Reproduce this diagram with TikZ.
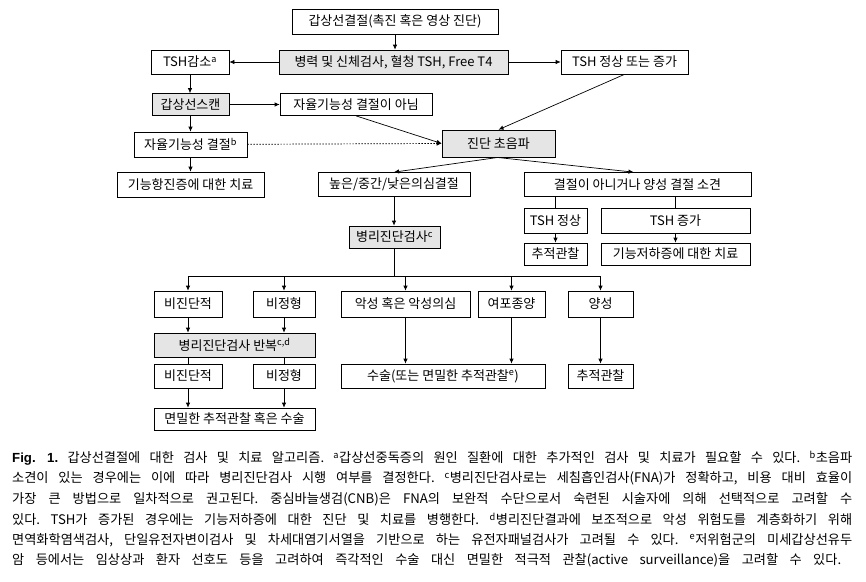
\documentclass[tikz,border=0pt]{standalone}
\usepackage{fontspec}
\setmainfont{Noto Sans CJK KR}
\newfontfamily\figfont{Liberation Sans}
\usepackage{tikz}
\usetikzlibrary{arrows.meta}
\frenchspacing

\tikzset{
  box/.style={draw=black,line width=0.7pt,fill=white,inner sep=0pt,minimum height=24pt,font=\fontsize{13}{14}\selectfont},
  gbox/.style={box,fill=black!10},
  arr/.style={-{Latex[length=5pt,width=4.5pt]},line width=0.7pt},
  ln/.style={line width=0.7pt},
  capline/.style={anchor=west,inner sep=0pt,font=\fontsize{13.2}{15}\selectfont}
}

\begin{document}
\begin{tikzpicture}[x=1pt,y=-1pt]
\useasboundingbox (0,0) rectangle (866,581);

% upper part
\node[box,minimum width=206pt,minimum height=25pt] (top) at (395,21.5) {갑상선결절(촉진 혹은 영상 진단)};
\node[gbox,minimum width=229pt] (hist) at (393.5,62) {병력 및 신체검사, 혈청 TSH, Free T4};
\node[box,minimum width=78pt] (low) at (190,62) {TSH감소\textsuperscript{a}};
\node[box,minimum width=127pt] (tshn) at (624.5,62) {TSH 정상 또는 증가};
\node[gbox,minimum width=77pt,minimum height=22pt] (scan) at (190.5,104.5) {갑상선스캔};
\node[box,minimum width=152pt,minimum height=22pt] (notauto) at (356,104.5) {자율기능성 결절이 아님};
\node[box,minimum width=113pt,minimum height=25pt] (auto) at (190.5,144.5) {자율기능성 결절\textsuperscript{b}};
\node[gbox,minimum width=113pt,minimum height=27pt] (us) at (498.5,143.5) {진단 초음파};
\node[box,minimum width=147pt,minimum height=25pt] (hyper) at (190.5,184.5) {기능항진증에 대한 치료};

% ultrasound result
\node[box,minimum width=152pt] (hi) at (394,184.5) {높은/중간/낮은의심결절};
\node[box,minimum width=227pt] (neg) at (637.5,184.5) {결절이 아니거나 양성 결절 소견};
\node[gbox,minimum width=91pt,minimum height=22pt] (bx) at (394.5,237) {병리진단검사\textsuperscript{c}};
\node[box,minimum width=63pt,minimum height=25pt] (tn) at (555.5,220.5) {TSH 정상};
\node[box,minimum width=149pt,minimum height=25pt] (ti) at (675.5,220.5) {TSH 증가};
\node[box,minimum width=63pt,minimum height=22pt] (fol1) at (555.5,254) {추적관찰};
\node[box,minimum width=149pt,minimum height=22pt] (hypo) at (675.5,254) {기능저하증에 대한 치료};

% cytology
\coordinate (split) at (395,276);
\node[box,minimum width=68pt,minimum height=26pt] (nd1) at (188,304) {비진단적};
\node[box,minimum width=62pt,minimum height=26pt] (at1) at (284,304) {비정형};
\node[box,minimum width=129pt,minimum height=26pt] (mal) at (405.5,304) {악성 혹은 악성의심};
\node[box,minimum width=67pt,minimum height=26pt] (fn) at (511.5,304) {여포종양};
\node[box,minimum width=65pt,minimum height=26pt] (ben) at (600.5,304) {양성};
\node[gbox,minimum width=161pt] (rep) at (234.5,345) {병리진단검사 반복\textsuperscript{c,d}};
\node[box,minimum width=68pt] (nd2) at (188,376) {비진단적};
\node[box,minimum width=62pt] (at2) at (284,376) {비정형};
\node[box,minimum width=204pt] (surg) at (443,376) {수술(또는 면밀한 추적관찰\textsuperscript{e})};
\node[box,minimum width=65pt] (fol2) at (600.5,376) {추적관찰};
\node[box,minimum width=161pt,minimum height=22pt] (fin) at (234.5,419) {면밀한 추적관찰 혹은 수술};

\path [arr] (top) edge (top.south |- hist.north);
\path [arr] (hist) edge (low);
\path [arr] (hist) edge (tshn);
\path [arr] (low) edge (low.south |- scan.north);
\path [arr] (scan) edge (notauto);
\path [arr] (scan) edge (scan.south |- auto.north);
\path [arr] (auto) edge (auto.south |- hyper.north);
\path [arr,dashed,dash pattern=on 1.5pt off 1.5pt] (auto) edge (us.west);
\path [arr] (notauto.south) edge (us.west);
\path [arr] (tshn.south) edge (us.north);
\path [arr] (us.south) edge (hi.north);
\path [arr] ([xshift=-2pt]us.south) edge ([xshift=-4pt]neg.north);

\draw [ln] (tn.north |- neg.south) -- (tn.north);
\draw [ln] (ti.north |- neg.south) -- (ti.north);
\path [arr] (tn) edge (fol1);
\path [arr] (ti) edge (hypo);

\path [arr] (hi) edge (hi.south |- bx.north);
\draw [ln] (bx.south) -- (bx.south |- split);
\draw [ln] (nd1.north |- split) -- (ben.north |- split);
\foreach \n in {nd1,at1,mal,fn,ben}
  \path [arr] (\n.north |- split) edge (\n.north);

\path [arr] (nd1) edge (nd1.south |- rep.north);
\path [arr] (at1) edge (at1.south |- rep.north);
\draw [ln] (nd1.south |- rep.south) -- (nd2.north);
\draw [ln] (at1.south |- rep.south) -- (at2.north);
\path [arr] (nd2) edge (nd2.south |- fin.north);
\path [arr] (at2) edge (at2.south |- fin.north);
\path [arr] (mal) edge (mal.south |- surg.north);
\path [arr] (fn) edge (fn.south |- surg.north);
\path [arr] (ben) edge (fol2);

% caption
\node[capline] (cap1) at (12,458) {\makebox[840pt][s]{{\figfont\bfseries Fig. 1.} 갑상선결절에 대한 검사 및 치료 알고리즘. \textsuperscript{a}갑상선중독증의 원인 질환에 대한 추가적인 검사 및 치료가 필요할 수 있다. \textsuperscript{b}초음파}};
\node[capline] (cap2) at (12,478.5) {\makebox[840pt][s]{소견이 있는 경우에는 이에 따라 병리진단검사 시행 여부를 결정한다. \textsuperscript{c}병리진단검사로는 세침흡인검사(FNA)가 정확하고, 비용 대비 효율이}};
\node[capline] (cap3) at (12,499) {\makebox[840pt][s]{가장 큰 방법으로 일차적으로 권고된다. 중심바늘생검(CNB)은 FNA의 보완적 수단으로서 숙련된 시술자에 의해 선택적으로 고려할 수}};
\node[capline] (cap4) at (12,519.5) {\makebox[840pt][s]{있다. TSH가 증가된 경우에는 기능저하증에 대한 진단 및 치료를 병행한다. \textsuperscript{d}병리진단결과에 보조적으로 악성 위험도를 계층화하기 위해}};
\node[capline] (cap5) at (12,540) {\makebox[840pt][s]{면역화학염색검사, 단일유전자변이검사 및 차세대염기서열을 기반으로 하는 유전자패널검사가 고려될 수 있다. \textsuperscript{e}저위험군의 미세갑상선유두}};
\node[capline] (cap6) at (12,560.5) {\makebox[829pt][s]{암 등에서는 임상상과 환자 선호도 등을 고려하여 즉각적인 수술 대신 면밀한 적극적 관찰(active surveillance)을 고려할 수 있다.}};

\end{tikzpicture}
\end{document}
